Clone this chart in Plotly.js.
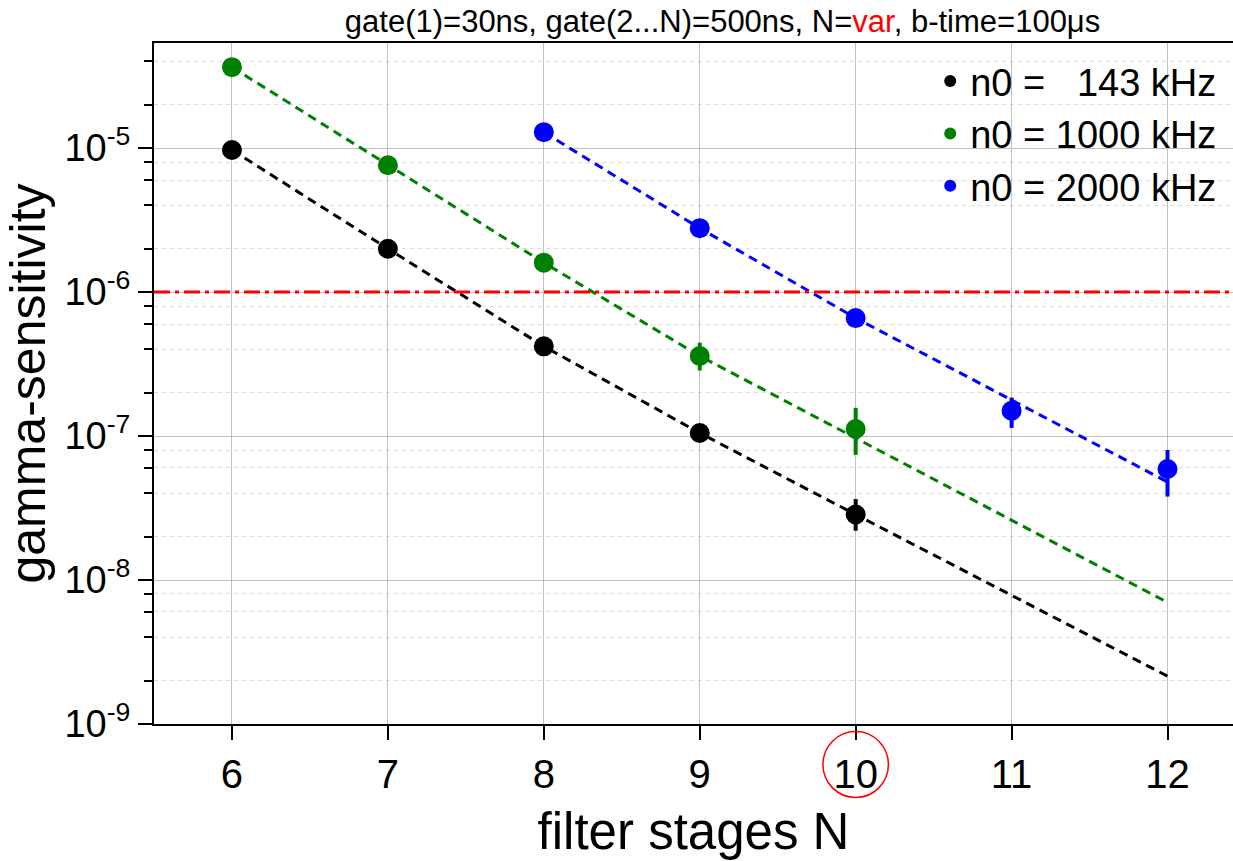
<!DOCTYPE html>
<html>
<head>
<meta charset="utf-8">
<script src="https://cdn.plot.ly/plotly-3.0.1.min.js"></script>
<style>html,body{margin:0;padding:0;background:#fff;}#chart{width:1233px;height:861px;}</style>
</head>
<body>
<div id="chart"></div>
<script>
// ---- data ----
const seriesNames = ["n0 =\u00a0\u00a0\u00a0143 kHz", "n0 = 1000 kHz", "n0 = 2000 kHz"];
const seriesColors = ["#000000", "#008000", "#0000ff"];

const blackN = [6, 7, 8, 9, 10];
const blackY = [9.7e-6, 2.0e-6, 4.2e-7, 1.05e-7, 2.85e-8];
const blackErrPlus  = [0, 0, 0, 0, 0.8e-8];
const blackErrMinus = [0, 0, 0, 0, 0.65e-8];

const greenN = [6, 7, 8, 9, 10];
const greenY = [3.65e-5, 7.6e-6, 1.6e-6, 3.6e-7, 1.12e-7];
const greenErrPlus  = [0, 0, 0, 0.85e-7, 0.45e-7];
const greenErrMinus = [0, 0, 0, 0.75e-7, 0.38e-7];

const blueN = [8, 9, 10, 11, 12];
const blueY = [1.29e-5, 2.78e-6, 6.6e-7, 1.5e-7, 5.9e-8];
const blueErrPlus  = [0, 0, 0, 0.35e-7, 2.1e-8];
const blueErrMinus = [0, 0, 0, 0.36e-7, 2.1e-8];

// dashed guide lines (through the points, then extrapolated to N=12)
const fitBlackN = [6, 7, 8, 9, 10, 12];
const fitBlackY = [9.7e-6, 2.0e-6, 4.2e-7, 1.05e-7, 2.85e-8, 2.15e-9];
const fitGreenN = [6, 7, 8, 9, 12];
const fitGreenY = [3.65e-5, 7.6e-6, 1.6e-6, 3.6e-7, 7.0e-9];
const fitBlueN = [8, 9, 10, 12];
const fitBlueY = [1.29e-5, 2.78e-6, 6.6e-7, 4.8e-8];

const threshold = 1e-6;

const xTicks = [6, 7, 8, 9, 10, 11, 12];
const yTickVals = [1e-9, 1e-8, 1e-7, 1e-6, 1e-5];
const yTickText = ["10<sup>-9</sup>", "10<sup>-8</sup>", "10<sup>-7</sup>", "10<sup>-6</sup>", "10<sup>-5</sup>"];
const yMinorVals = [];
[-9, -8, -7, -6, -5].forEach(function (e) {
  [2, 4, 6, 8].forEach(function (m) { yMinorVals.push(m * Math.pow(10, e)); });
});

const titleText = "gate(1)=30ns, gate(2...N)=500ns, N=<span style='color:#ff0000'>var</span>, b-time=100\u03bcs";

// ---- traces ----
const FONT = "Liberation Sans, Arial, sans-serif";
function fitTrace(x, y, color) {
  return {x: x, y: y, type: "scatter", mode: "lines", showlegend: false, hoverinfo: "skip",
          line: {color: color, width: 3, dash: "9px,6px"}};
}
function dataTrace(x, y, ep, em, color, name) {
  return {x: x, y: y, type: "scatter", mode: "markers", name: name,
          marker: {color: color, size: 20},
          error_y: {type: "data", symmetric: false, array: ep, arrayminus: em,
                    color: color, thickness: 4, width: 0}};
}
const traces = [
  fitTrace(fitBlackN, fitBlackY, seriesColors[0]),
  fitTrace(fitGreenN, fitGreenY, seriesColors[1]),
  fitTrace(fitBlueN, fitBlueY, seriesColors[2]),
  dataTrace(blackN, blackY, blackErrPlus, blackErrMinus, seriesColors[0], seriesNames[0]),
  dataTrace(greenN, greenY, greenErrPlus, greenErrMinus, seriesColors[1], seriesNames[1]),
  dataTrace(blueN, blueY, blueErrPlus, blueErrMinus, seriesColors[2], seriesNames[2])
];

const layout = {
  width: 1233, height: 861,
  margin: {l: 154, r: 0, t: 43, b: 137, pad: 0},
  paper_bgcolor: "#fff", plot_bgcolor: "#fff",
  font: {family: FONT, color: "#000"},
  title: {text: titleText, font: {family: FONT, size: 31, color: "#000"},
          x: 0.586, xref: "container", xanchor: "center", y: 0.976, yref: "container", yanchor: "middle"},
  showlegend: true,
  legend: {x: 0.99, xanchor: "right", y: 0.99, yanchor: "top", bgcolor: "rgba(0,0,0,0)",
           borderwidth: 0, font: {family: FONT, size: 38, color: "#000"}, itemsizing: "constant",
           tracegroupgap: 0},
  xaxis: {
    type: "linear", range: [5.5, 12.42], tickmode: "array", tickvals: xTicks,
    ticks: "outside", ticklen: 14, tickwidth: 2, tickcolor: "#000",
    showline: true, linecolor: "#000", linewidth: 2, mirror: true,
    showgrid: true, gridcolor: "#c0c0c0", gridwidth: 1, zeroline: false,
    tickfont: {family: FONT, size: 40, color: "#000"},
    title: {text: "filter stages N", font: {family: FONT, size: 51, color: "#000"}, standoff: 18}
  },
  yaxis: {
    type: "log", range: [-9, -4.27], tickmode: "array", tickvals: yTickVals, ticktext: yTickText,
    ticks: "outside", ticklen: 14, tickwidth: 2, tickcolor: "#000",
    showline: true, linecolor: "#000", linewidth: 2,
    showgrid: true, gridcolor: "#c0c0c0", gridwidth: 1, zeroline: false,
    tickfont: {family: FONT, size: 38, color: "#000"},
    minor: {tickmode: "array", tickvals: yMinorVals, ticks: "outside", ticklen: 8, tickwidth: 2,
            tickcolor: "#000", showgrid: true, gridcolor: "#dcdcdc", griddash: "4px,4px", gridwidth: 1},
    title: {text: "gamma-sensitivity", font: {family: FONT, size: 50, color: "#000"}, standoff: 4}
  },
  shapes: [
    {type: "rect", layer: "between", xref: "paper", yref: "paper", x0: 0.623, x1: 1, y0: 0.762, y1: 1,
     fillcolor: "#ffffff", line: {width: 0}},
    {type: "line", xref: "paper", x0: 0, x1: 1, yref: "y", y0: threshold, y1: threshold,
     line: {color: "#ff0000", width: 3, dash: "16px,5px,4px,5px"}},
    {type: "circle", xref: "x", x0: 9.79, x1: 10.21, yref: "paper", y0: -0.011, y1: -0.108,
     line: {color: "#ff0000", width: 1.5}}
  ]
};

Plotly.newPlot("chart", traces, layout, {displayModeBar: false, staticPlot: true});
</script>
</body>
</html>
